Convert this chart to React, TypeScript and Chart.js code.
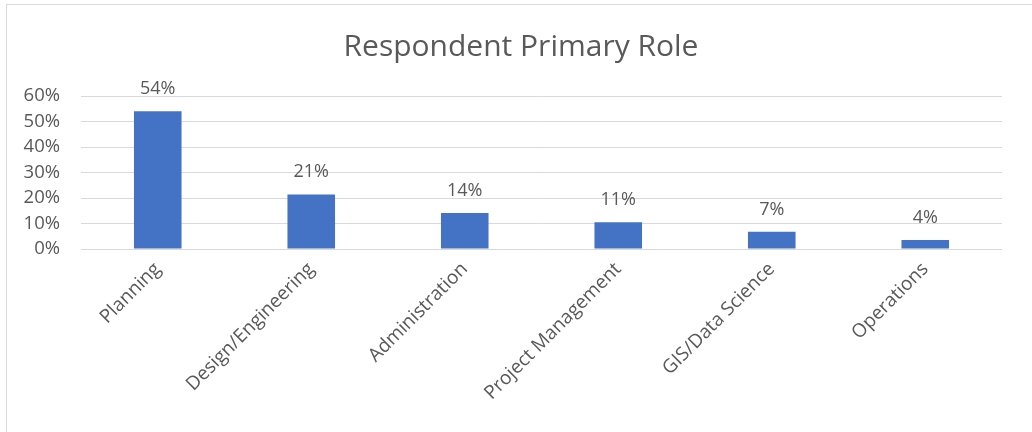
import React, { useEffect, useRef } from "react";
import { Chart, registerables } from "chart.js";

Chart.register(...registerables);

const categories = [
  "Planning",
  "Design/Engineering",
  "Administration",
  "Project Management",
  "GIS/Data Science",
  "Operations",
];
const shares = [0.54, 0.214, 0.141, 0.105, 0.068, 0.035];
const yTickValues = [0, 0.1, 0.2, 0.3, 0.4, 0.5, 0.6];
const titleText = "Respondent Primary Role";

const FONT = "'Open Sans', 'Liberation Sans', sans-serif";
const TEXT = "#595959";

const pct = (v: number) => `${Math.round(v * 100)}%`;

const dataLabelPlugin = {
  id: "dataLabels",
  afterDatasetsDraw(chart: any) {
    const ctx = chart.ctx;
    const meta = chart.getDatasetMeta(0);
    ctx.save();
    ctx.font = `18px ${FONT}`;
    ctx.fillStyle = TEXT;
    ctx.textAlign = "center";
    ctx.textBaseline = "alphabetic";
    meta.data.forEach((bar: any, i: number) => {
      ctx.fillText(pct(shares[i]), bar.x, bar.y - 17);
    });
    ctx.restore();
  },
};

const titlePlugin = {
  id: "excelTitle",
  afterDraw(chart: any) {
    const ctx = chart.ctx;
    ctx.save();
    ctx.font = `30px ${FONT}`;
    ctx.fillStyle = TEXT;
    ctx.textAlign = "center";
    ctx.textBaseline = "alphabetic";
    ctx.fillText(titleText, 521, 56);
    ctx.restore();
  },
};

export default function App() {
  const ref = useRef<HTMLCanvasElement | null>(null);

  useEffect(() => {
    if (!ref.current) return;
    const chart = new Chart(ref.current, {
      type: "bar",
      data: {
        labels: categories,
        datasets: [
          {
            data: shares,
            backgroundColor: "#4472C4",
            borderWidth: 0,
            categoryPercentage: 1,
            barPercentage: 0.31,
          },
        ],
      },
      options: {
        animation: false,
        responsive: false,
        maintainAspectRatio: false,
        layout: { padding: { left: 0, right: 30, top: 96, bottom: 0 } },
        plugins: {
          legend: { display: false },
          tooltip: { enabled: false },
          title: { display: false },
        },
        scales: {
          x: {
            grid: { display: false, drawTicks: false },
            border: { display: false },
            ticks: {
              color: TEXT,
              font: { family: FONT, size: 19 },
              minRotation: 45,
              maxRotation: 45,
              autoSkip: false,
              padding: 9,
            },
            afterFit(scale: any) {
              scale.height = 183;
            },
          },
          y: {
            min: 0,
            max: 0.6,
            afterBuildTicks(scale: any) {
              scale.ticks = yTickValues.map((v) => ({ value: v }));
            },
            grid: { color: "#D9D9D9", lineWidth: 1, drawTicks: false },
            border: { display: false },
            ticks: {
              color: TEXT,
              font: { family: FONT, size: 18.5 },
              padding: 21,
              autoSkip: false,
              callback: (v: any) => pct(Number(v)),
            },
            afterFit(scale: any) {
              scale.width = 81;
            },
          },
        },
      },
      plugins: [dataLabelPlugin, titlePlugin],
    });
    return () => chart.destroy();
  }, []);

  return (
    <div style={{ position: "fixed", left: 0, top: 0, width: 1032, height: 432, background: "#fff" }}>
      <div
        style={{
          position: "absolute",
          left: 6,
          top: 4,
          width: 1030,
          height: 432,
          borderLeft: "1.5px solid #D9D9D9",
          borderTop: "1.5px solid #D9D9D9",
          boxSizing: "border-box",
        }}
      />
      <canvas ref={ref} width={1032} height={432} style={{ position: "absolute", left: 0, top: 0 }} />
    </div>
  );
}
